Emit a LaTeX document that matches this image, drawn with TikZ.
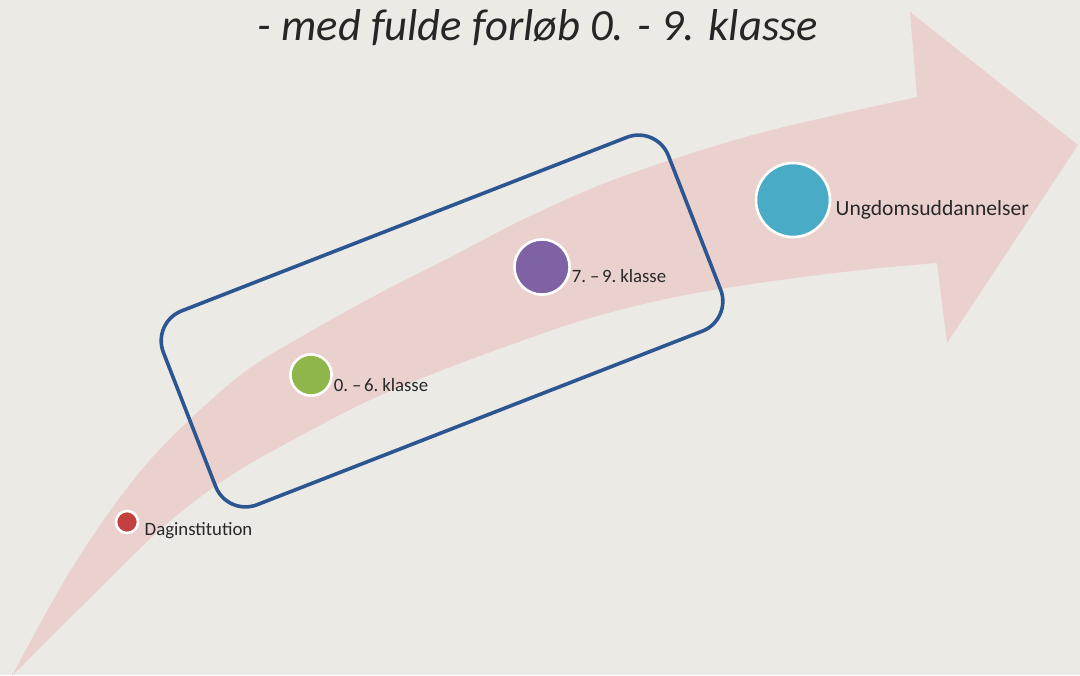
\documentclass[tikz,border=0pt]{standalone}
\usepackage{fontspec}
\setmainfont{Carlito}
\newfontfamily\tagfont[WordSpace=0.6]{Carlito}
\usetikzlibrary{positioning}

\definecolor{paper}{RGB}{236,234,229}
\definecolor{flow}{RGB}{234,209,206}
\definecolor{frameblue}{RGB}{44,86,145}
\definecolor{dagred}{RGB}{196,64,62}
\definecolor{skolegreen}{RGB}{142,182,75}
\definecolor{udskolingpurple}{RGB}{126,98,163}
\definecolor{ungteal}{RGB}{74,171,198}
\definecolor{inkgray}{RGB}{40,40,40}

\tikzset{
  stage/.style={circle, draw=white, line width=1.3pt, inner sep=0pt},
  tag/.style={inner sep=0pt, text=inkgray, font=\tagfont\fontsize{9.4}{11}\selectfont},
  frame/.style={draw=frameblue, line width=1.8pt, rounded corners=16pt,
    minimum width=271pt, minimum height=104pt, rotate=21.3},
  headline/.style={anchor=base, inner sep=0pt, text=black!85,
    font=\fontsize{22.3}{26}\selectfont\itshape},
}

\begin{document}
\begin{tikzpicture}[x=0.5pt, y=-0.5pt]
  \useasboundingbox (0,0) rectangle (1080,675);
  \fill[paper] (0,0) rectangle (1080,675);
  % curved arrow behind everything
  \fill[flow] (12,676)
    -- plot[smooth, tension=0.55] coordinates {(12,676) (60,588) (105,518) (150,460) (200,410) (250,368) (313,330) (380,293) (447,259) (520,221) (600,185) (680,157) (760,133) (840,114) (917,97)}
    -- (910,12) -- (1078,145) -- (947,343) -- (937,263)
    -- plot[smooth, tension=0.55] coordinates {(937,263) (870,269) (780,280) (680,296) (590,318) (510,345) (440,371) (370,400) (300,436) (230,476) (163,527) (83,605) (12,676)}
    -- cycle;

  \node[frame] (grundskole) at (442,321) {};

  \node[stage, fill=dagred, minimum size=11pt] (dag) at (127,522) {};
  \node[stage, fill=skolegreen, minimum size=20.6pt] (indskoling) at (311,375) {};
  \node[stage, fill=udskolingpurple, minimum size=27.6pt] (udskoling) at (542,267) {};
  \node[stage, fill=ungteal, minimum size=37pt] (ung) at (793,200) {};

  \node[tag, right=2.5pt of dag.east, yshift=-4.5pt] (dagtext) {Daginstitution};
  \node[tag, right=0.3pt of indskoling.east, yshift=-5pt] (indskolingtext) {0. – 6. klasse};
  \node[tag, right=0.3pt of udskoling.east, yshift=-4.5pt] (udskolingtext) {7. – 9. klasse};
  \node[tag, font=\tagfont\fontsize{10.8}{13}\selectfont, right=2pt of ung.east, yshift=-5pt] (ungtext) {Ungdomsuddannelser};

  \node[headline] (title) at (538,40) {- med fulde forløb 0. - 9. klasse};
\end{tikzpicture}
\end{document}
